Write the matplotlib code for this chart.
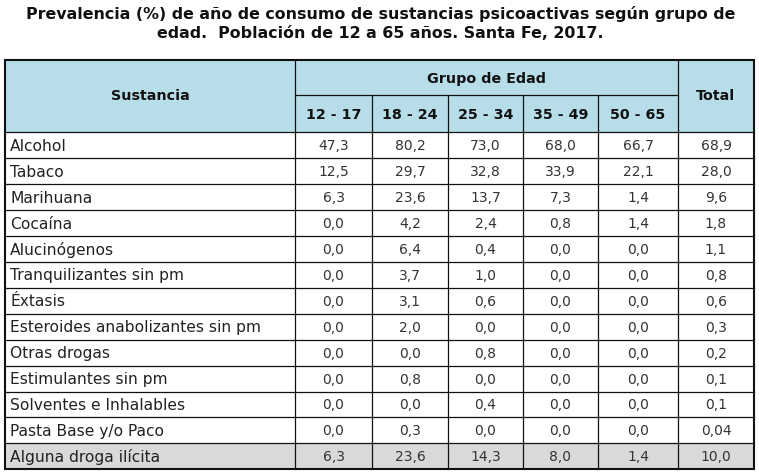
import matplotlib
matplotlib.use("Agg")
import matplotlib.pyplot as plt
from matplotlib.patches import Rectangle

title_lines = ["Prevalencia (%) de año de consumo de sustancias psicoactivas según grupo de",
               "edad.  Población de 12 a 65 años. Santa Fe, 2017."]
group_header = "Grupo de Edad"
first_header = "Sustancia"
total_header = "Total"
age_groups = ["12 - 17", "18 - 24", "25 - 34", "35 - 49", "50 - 65"]
substances = ["Alcohol", "Tabaco", "Marihuana", "Cocaína", "Alucinógenos",
              "Tranquilizantes sin pm", "Éxtasis", "Esteroides anabolizantes sin pm",
              "Otras drogas", "Estimulantes sin pm", "Solventes e Inhalables",
              "Pasta Base y/o Paco", "Alguna droga ilícita"]
v_12_17 = ["47,3", "12,5", "6,3", "0,0", "0,0", "0,0", "0,0", "0,0", "0,0", "0,0", "0,0", "0,0", "6,3"]
v_18_24 = ["80,2", "29,7", "23,6", "4,2", "6,4", "3,7", "3,1", "2,0", "0,0", "0,8", "0,0", "0,3", "23,6"]
v_25_34 = ["73,0", "32,8", "13,7", "2,4", "0,4", "1,0", "0,6", "0,0", "0,8", "0,0", "0,4", "0,0", "14,3"]
v_35_49 = ["68,0", "33,9", "7,3", "0,8", "0,0", "0,0", "0,0", "0,0", "0,0", "0,0", "0,0", "0,0", "8,0"]
v_50_65 = ["66,7", "22,1", "1,4", "1,4", "0,0", "0,0", "0,0", "0,0", "0,0", "0,0", "0,0", "0,0", "1,4"]
v_total = ["68,9", "28,0", "9,6", "1,8", "1,1", "0,8", "0,6", "0,3", "0,2", "0,1", "0,1", "0,04", "10,0"]

plt.rcParams['font.family'] = ['DejaVu Sans']

W, H = 759, 473
fig = plt.figure(figsize=(W / 100, H / 100), dpi=100)
ax = fig.add_axes([0, 0, 1, 1])
ax.set_xlim(0, W)
ax.set_ylim(H, 0)
ax.axis('off')

# layout
col_x = [5, 295, 372, 448, 523, 598, 678, 754]
top = 60
mid = 95
head_bot = 132.5
row_h = 25.9
bottom = head_bot + row_h * len(substances)

blue = '#B7DEE8'
grey = '#D9D9D9'
lc = '#111111'

# title
ax.text(W / 2 + 1, 14, title_lines[0], ha='center', va='center', fontsize=11.4, fontweight='bold', color='#111111')
ax.text(W / 2 + 1, 33, title_lines[1], ha='center', va='center', fontsize=11.4, fontweight='bold', color='#111111')

# header background
ax.add_patch(Rectangle((col_x[0], top), col_x[-1] - col_x[0], head_bot - top, facecolor=blue, edgecolor='none'))
# last row grey
ax.add_patch(Rectangle((col_x[0], bottom - row_h), col_x[-1] - col_x[0], row_h, facecolor=grey, edgecolor='none'))

# header text
hfs = 10.3
ax.text((col_x[0] + col_x[1]) / 2, (top + head_bot) / 2, first_header, ha='center', va='center', fontsize=hfs, fontweight='bold', color='#111111')
ax.text((col_x[1] + col_x[6]) / 2, (top + mid) / 2 + 1, group_header, ha='center', va='center', fontsize=hfs, fontweight='bold', color='#111111')
ax.text((col_x[6] + col_x[7]) / 2, (top + head_bot) / 2, total_header, ha='center', va='center', fontsize=hfs, fontweight='bold', color='#111111')
for i, g in enumerate(age_groups):
    ax.text((col_x[i + 1] + col_x[i + 2]) / 2, (mid + head_bot) / 2 + 1, g, ha='center', va='center', fontsize=hfs, fontweight='bold', color='#111111')

# data
cols = [v_12_17, v_18_24, v_25_34, v_35_49, v_50_65, v_total]
for r, name in enumerate(substances):
    yc = head_bot + row_h * (r + 0.5) + 1
    ax.text(col_x[0] + 5, yc, name, ha='left', va='center', fontsize=11.2, color='#222222')
    for c, vals in enumerate(cols):
        ax.text((col_x[c + 1] + col_x[c + 2]) / 2, yc, vals[r], ha='center', va='center', fontsize=10, color='#333333')

# lines
for r in range(len(substances)):
    y = head_bot + row_h * r
    ax.plot([col_x[0], col_x[-1]], [y, y], color=lc, lw=0.9)
ax.plot([col_x[1], col_x[6]], [mid, mid], color=lc, lw=0.9)
for i, x in enumerate(col_x[1:-1], start=1):
    y0 = mid if 2 <= i <= 5 else top
    ax.plot([x, x], [y0, bottom], color=lc, lw=0.9)
ax.add_patch(Rectangle((col_x[0], top), col_x[-1] - col_x[0], bottom - top, facecolor='none', edgecolor=lc, lw=1.5))

fig.savefig('out.png', dpi=100)
